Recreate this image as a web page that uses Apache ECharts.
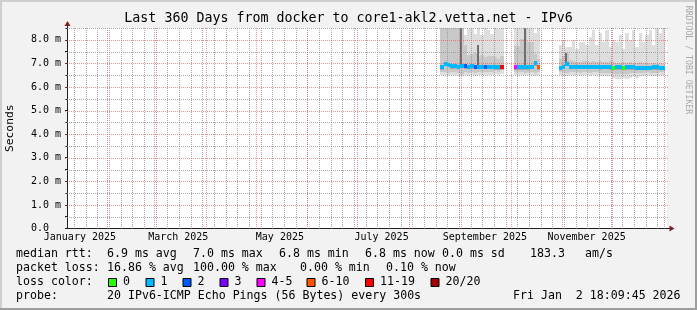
<!DOCTYPE html>
<html><head><meta charset="utf-8">
<script src="https://cdn.jsdelivr.net/npm/echarts@6/dist/echarts.min.js"></script>
<style>html,body{margin:0;padding:0;background:#f2f2f2}#c{width:697px;height:310px}</style>
</head><body><div id="c"></div>
<script>
// ---- data (days since start of the 360-day window) ----
const bucketDay = [224,226,228,230,232,234,236,238,240,242,244,246,248,250,252,254,256,258,260,
 268,270,272,274,276,278,280,282,
 295,297,299,301,303,305,307,309,311,313,315,317,319,321,323,325,327,329,331,333,335,337,339,341,343,345,347,349,351,353,355,357];
const smokeHi = [8.5,8.5,8.5,8.5,8.5,8.5,8.5,8.2,8.45,8.5,8.26,8.5,8.2,8.5,8.4,8.26,8.5,8.45,8.5,
 8.5,8.5,8.5,8.5,8.5,8.5,8.3,8.5,
 7.8,8.0,7.7,7.7,8.0,7.6,7.9,7.9,7.8,8.1,8.4,7.8,8.3,7.9,8.4,7.7,8.0,7.9,8.2,7.6,8.3,8.0,8.4,7.7,8.3,7.9,8.2,8.4,7.8,8.5,8.3,8.5];
const smokeMid = [8.5,8.5,8.5,8.5,8.5,8.5,8.5,7.8,7.35,7.4,7.45,7.3,7.35,7.25,7.3,7.3,7.25,7.2,7.3,
 7.75,7.75,8.05,8.5,7.9,7.9,7.4,7.2,
 7.2,7.3,7.45,7.15,7.1,7.05,7.05,7.1,7.1,7.05,7.1,7.05,7.1,7.05,7.05,7.1,7.05,7.0,7.0,7.05,7.0,7.05,7.0,7.0,7.05,7.0,7.0,6.98,7.0,6.98,7.0,6.98];
const smokeMidLo = [6.65,6.65,6.6,6.65,6.65,6.6,6.55,6.65,6.6,6.65,6.6,6.65,6.65,6.65,6.65,6.65,6.7,6.65,6.7,
 6.62,6.62,6.62,6.6,6.62,6.62,6.6,6.62,
 6.65,6.62,6.6,6.62,6.62,6.62,6.6,6.62,6.62,6.6,6.62,6.62,6.6,6.6,6.6,6.6,6.55,6.55,6.55,6.55,6.55,6.58,6.6,6.58,6.6,6.6,6.62,6.6,6.6,6.6,6.62,6.62];
const smokeLo = [6.5,6.5,6.45,6.5,6.5,6.45,6.45,6.5,6.45,6.5,6.45,6.5,6.5,6.5,6.5,6.5,6.55,6.5,6.55,
 6.5,6.5,6.5,6.5,6.5,6.5,6.45,6.5,
 6.5,6.45,6.45,6.5,6.5,6.5,6.45,6.5,6.5,6.45,6.5,6.5,6.45,6.45,6.45,6.45,6.4,6.35,6.35,6.38,6.35,6.4,6.45,6.4,6.45,6.45,6.5,6.45,6.45,6.45,6.5,6.5];
const darkHi = [null,null,null,null,null,null,8.5,null,null,null,null,7.8,null,null,null,null,null,null,null,
 null,null,null,8.5,null,null,7.1,null,
 null,null,7.45,null,null,null,null,null,null,null,null,null,null,null,null,null,null,null,null,null,null,null,null,null,null,null,null,null,null,null,null,null];
const medianRtt = [6.84,6.97,6.95,6.88,6.87,6.86,6.9,6.88,6.86,6.87,6.86,6.86,6.85,6.85,6.85,6.85,6.84,6.84,6.84,
 6.84,6.84,6.84,6.84,6.84,6.86,7.0,6.84,
 6.82,6.85,6.97,6.86,6.85,6.85,6.85,6.85,6.85,6.85,6.85,6.85,6.84,6.85,6.85,6.84,6.82,6.84,6.84,6.82,6.84,6.83,6.83,6.82,6.82,6.82,6.82,6.82,6.83,6.83,6.82,6.82];
const lossIdx = [1,1,1,1,1,1,1,2,1,1,2,1,1,2,1,1,1,1,6,
 4,1,1,1,1,1,1,5,
 1,1,1,1,1,1,1,1,1,1,1,1,1,1,1,1,0,1,1,0,1,1,1,1,1,1,1,1,1,1,1,1];
const lossLabels = ['0','1','2','3','4-5','6-10','11-19','20/20'];
const lossColors = ['#26ff00','#00b8ff','#0059ff','#7e00ff','#ff00ff','#ff5500','#ff0000','#a00000'];
const yTicks = [0,0.5,1,1.5,2,2.5,3,3.5,4,4.5,5,5.5,6,6.5,7,7.5,8,8.5];
const monthLabels = [['January 2025',2025,0],['March 2025',2025,2],['May 2025',2025,4],['July 2025',2025,6],['September 2025',2025,8],['November 2025',2025,10]];
const bucketWidth = 2;
const START = Date.UTC(2025,0,7,18,9,45);
const SPAN = 360;
const toDay = (y,m,d,h) => (Date.UTC(y,m,d,h||0) - START) / 864e5;

// grid line rows: [x, y, kind]  kind 0 minor vertical, 1 major vertical, 2 minor horizontal, 3 major horizontal
const gridRows = [];
for (let d = toDay(2025,0,12); d < SPAN; d += 7) gridRows.push([d, 0, 0]);
for (let m = 1; m <= 12; m++) gridRows.push([toDay(2025, m, 1), 0, 1]);
yTicks.forEach(v => { if (v > 0) gridRows.push([0, v, (v % 1 === 0) ? 3 : 2]); });
const labelDays = monthLabels.map(l => toDay(l[1], l[2], 15, 12));

const rows = bucketDay.map((d,i) => [d, smokeHi[i], smokeMid[i], smokeMidLo[i], smokeLo[i], darkHi[i], medianRtt[i], lossIdx[i]]);

const chart = echarts.init(document.getElementById('c'), null, {renderer:'canvas'});
const MONO = 'DejaVu Sans Mono';
const gridColor = 'rgba(143,143,143,0.75)';
const mgridColor = 'rgba(222,79,79,0.6)';

function smokeItem(params, api) {
  const d = api.value(0);
  const xa = Math.round(api.coord([d, 0])[0]);
  const xb = Math.round(api.coord([d + bucketWidth, 0])[0]);
  const Y = v => Math.round(api.coord([d, v])[1]);
  const rect = (v1, v2, fill, x0, x1) => { const y1 = Y(v1), y2 = Y(v2); x0 = x0 == null ? xa : x0; x1 = x1 == null ? xb : x1;
    return {type:'rect', shape:{x:x0, y:Math.min(y1,y2), width:x1-x0, height:Math.abs(y2-y1)}, style:{fill}}; };
  const ch = [rect(api.value(4), api.value(1), '#dedede'), rect(api.value(3), api.value(2), '#c8c8c8')];
  const med = api.value(6);
  ch.push(rect(med - 0.1, med + 0.06, '#a8a8a8'));
  const dk = rows[params.dataIndex][5];
  if (dk != null) ch.push(rect(med, dk, '#6e6e6e', xa, xa + 2));
  return {type:'group', children: ch};
}
function medianItem(params, api) {
  const d = api.value(0);
  const xa = Math.round(api.coord([d, 0])[0]);
  const xb = Math.round(api.coord([d + bucketWidth, 0])[0]);
  const y = Math.round(api.coord([d, api.value(6)])[1]);
  return {type:'rect', shape:{x:xa, y:y-2, width:xb-xa, height:4}, style:{fill: lossColors[api.value(7)]}};
}
function gridItem(params, api) {
  const cs = params.coordSys;
  const kind = api.value(2);
  const color = (kind === 1 || kind === 3) ? mgridColor : gridColor;
  let shape;
  if (kind < 2) { const x = Math.round(api.coord([api.value(0), 0])[0]) + 0.5; shape = {x1:x, y1:cs.y, x2:x, y2:cs.y + cs.height}; }
  else { const y = Math.round(api.coord([0, api.value(1)])[1]) + 0.5; shape = {x1:cs.x - 2, y1:y, x2:cs.x + cs.width + 1, y2:y}; }
  return {type:'line', shape, style:{stroke:color, lineWidth:1, lineDash:[1,1]}};
}

const txt = (x, y, s) => ({type:'text', x, y, style:{text:s, font:'11.6px "DejaVu Sans Mono"', fill:'#000', textVerticalAlign:'middle'}});
const legend = [];
const L1 = 254, L2 = 268, L3 = 282, L4 = 296;
legend.push(txt(16,L1,'median rtt:'), txt(107,L1,'6.9 ms avg'), txt(193,L1,'7.0 ms max'), txt(279,L1,'6.8 ms min'), txt(365,L1,'6.8 ms now'), txt(442,L1,'0.0 ms sd'), txt(530,L1,'183.3'), txt(585,L1,'am/s'));
legend.push(txt(16,L2,'packet loss:'), txt(107,L2,'16.86 % avg'), txt(193,L2,'100.00 % max'), txt(300,L2,'0.00 % min'), txt(386,L2,'0.10 % now'));
legend.push(txt(16,L3,'loss color:'));
const boxX = [108,145.5,182.5,219.5,256.5,306.5,365,430.5];
lossLabels.forEach((l,i) => {
  legend.push({type:'rect', shape:{x:boxX[i]+0.5, y:278.5, width:8, height:8}, style:{fill:lossColors[i], stroke:'#000', lineWidth:1}});
  legend.push(txt(boxX[i]+15, L3, l));
});
legend.push(txt(16,L4,'probe:'), txt(107,L4,'20 IPv6-ICMP Echo Pings (56 Bytes) every 300s'), txt(513,L4,'Fri Jan  2 18:09:45 2026'));

chart.setOption({
  animation:false,
  backgroundColor:'#f2f2f2',
  title:{text:'Last 360 Days from docker to core1-akl2.vetta.net - IPv6', left:'center', top:12, padding:0,
    textStyle:{fontFamily:MONO, fontSize:13.3, fontWeight:'normal', color:'#000'}},
  grid:{left:67, right:30, top:28, bottom:81.5, containLabel:false, outerBoundsMode:'none', show:true, backgroundColor:'#ffffff', borderWidth:0},
  xAxis:{type:'value', min:0, max:SPAN,
    axisLine:{show:true, lineStyle:{color:'#1f1f1f', width:1}},
    axisTick:{show:false}, splitLine:{show:false},
    axisLabel:{customValues:labelDays, margin:4, fontFamily:MONO, fontSize:10, color:'#000',
      formatter: v => { let best=0; labelDays.forEach((d,i)=>{ if (Math.abs(d-v) < Math.abs(labelDays[best]-v)) best=i; }); return monthLabels[best][0]; }}},
  yAxis:{type:'value', min:0, max:8.5, interval:0.5,
    name:'Seconds', nameLocation:'middle', nameGap:51, nameTextStyle:{fontFamily:MONO, fontSize:11.3, color:'#000'},
    axisLine:{show:true, lineStyle:{color:'#1f1f1f', width:1}},
    axisTick:{show:true, length:2, lineStyle:{color:'#1f1f1f'}},
    splitLine:{show:false},
    axisLabel:{margin:6, fontFamily:MONO, fontSize:10, color:'#000',
      formatter: v => (v % 1 !== 0 || v > 8) ? '' : (v === 0 ? '0.0  ' : v.toFixed(1) + ' m')}},
  series:[
    {type:'custom', name:'smoke', data:rows, renderItem:smokeItem, clip:true, z:2, silent:true},
    {type:'custom', name:'grid', data:gridRows, renderItem:gridItem, clip:false, z:3, silent:true},
    {type:'custom', name:'median', data:rows, renderItem:medianItem, clip:true, z:4, silent:true}
  ],
  graphic:[
    {type:'rect', shape:{x:0,y:0,width:697,height:2}, style:{fill:'#cfcfcf'}},
    {type:'rect', shape:{x:0,y:0,width:2,height:310}, style:{fill:'#cfcfcf'}},
    {type:'rect', shape:{x:0,y:308,width:697,height:2}, style:{fill:'#9e9e9e'}},
    {type:'rect', shape:{x:695,y:0,width:2,height:310}, style:{fill:'#9e9e9e'}},
    {type:'line', shape:{x1:67.5,y1:25,x2:67.5,y2:28}, style:{stroke:'#1f1f1f', lineWidth:1}},
    {type:'line', shape:{x1:667,y1:228.5,x2:670,y2:228.5}, style:{stroke:'#1f1f1f', lineWidth:1}},
    {type:'polygon', shape:{points:[[67.5,21],[64.5,26],[70.5,26]]}, style:{fill:'#801f1f'}},
    {type:'polygon', shape:{points:[[674.5,228.5],[669.5,225.5],[669.5,231.5]]}, style:{fill:'#801f1f'}},
    {type:'text', x:688, y:60, rotation:-Math.PI/2, style:{text:'RRDTOOL / TOBI OETIKER', font:'8.2px "DejaVu Sans Mono"', fill:'#a8a8a8', textAlign:'center', textVerticalAlign:'middle'}},
    ...legend
  ]
});
</script></body></html>
